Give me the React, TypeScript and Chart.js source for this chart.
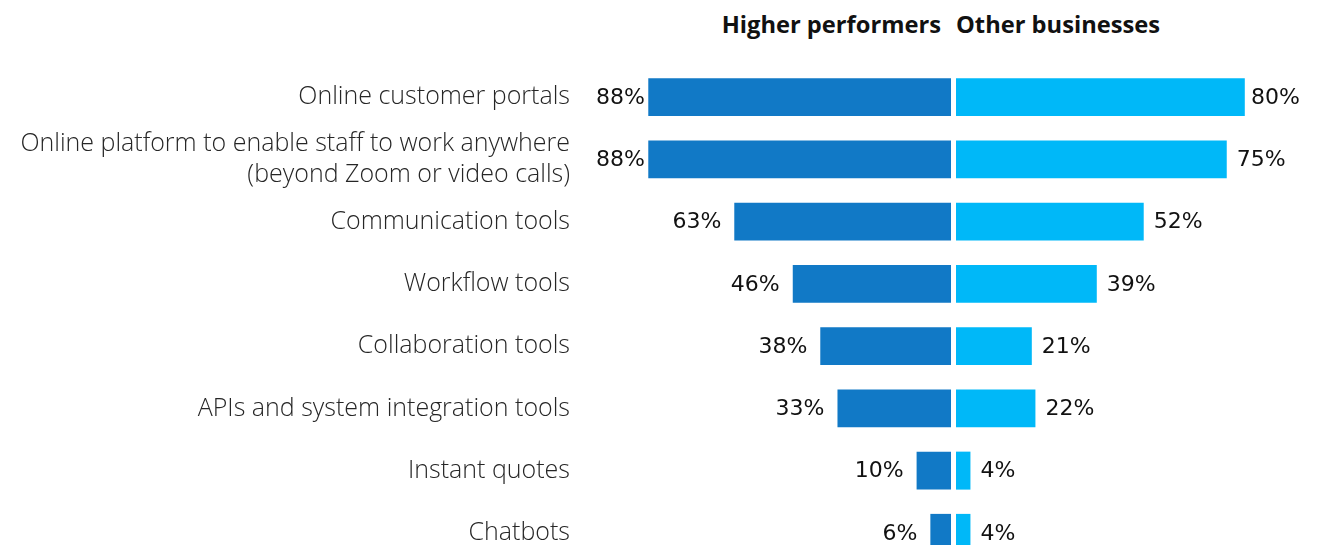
import React, { useEffect, useRef } from "react";
import { Chart, registerables } from "chart.js";

Chart.register(...registerables);

const categories: (string | string[])[] = [
  "Online customer portals",
  ["Online platform to enable staff to work anywhere", "(beyond Zoom or video calls)"],
  "Communication tools",
  "Workflow tools",
  "Collaboration tools",
  "APIs and system integration tools",
  "Instant quotes",
  "Chatbots",
];
const higherPerformers = [88, 88, 63, 46, 38, 33, 10, 6];
const otherBusinesses = [80, 75, 52, 39, 21, 22, 4, 4];
const seriesNames = ["Higher performers", "Other businesses"];

const DARK = "#1179c6";
const LIGHT = "#00b8f8";
const FONT = "'Open Sans', 'Noto Sans', sans-serif";
const VALUE_FONT = "'DejaVu Sans', sans-serif";
const CANVAS_H = 570;

const valueLabelPlugin = (side: "left" | "right") => ({
  id: "valueLabels_" + side,
  afterDatasetsDraw(chart: any) {
    const ctx = chart.ctx;
    const meta = chart.getDatasetMeta(0);
    const data = chart.data.datasets[0].data as number[];
    const area = chart.chartArea;
    ctx.save();
    ctx.font = `400 22px ${VALUE_FONT}`;
    ctx.fillStyle = "#111";
    ctx.textBaseline = "middle";
    meta.data.forEach((bar: any, i: number) => {
      const txt = data[i] + "%";
      const w = ctx.measureText(txt).width;
      if (side === "left") {
        ctx.textAlign = "right";
        const x = Math.max(bar.x - 13, area.left - 11 + w);
        ctx.fillText(txt, x, bar.y + 1);
      } else {
        ctx.textAlign = "left";
        const x = Math.min(bar.x + 10, area.right - 17 - w);
        ctx.fillText(txt, x, bar.y + 1);
      }
    });
    ctx.restore();
  },
});

export default function App() {
  const leftRef = useRef<HTMLCanvasElement>(null);
  const rightRef = useRef<HTMLCanvasElement>(null);

  useEffect(() => {
    const common = {
      indexAxis: "y" as const,
      responsive: false,
      maintainAspectRatio: false,
      animation: false as const,
      plugins: { legend: { display: false }, tooltip: { enabled: false } },
    };
    const left = new Chart(leftRef.current!, {
      type: "bar",
      data: {
        labels: categories,
        datasets: [
          {
            label: seriesNames[0],
            data: higherPerformers,
            backgroundColor: DARK,
            barPercentage: 0.61,
            categoryPercentage: 1,
          },
        ],
      },
      options: {
        ...common,
        layout: { padding: { top: 66, bottom: 6, left: 0, right: 0 } },
        scales: {
          x: { display: false, reverse: true, min: 0, max: 100 },
          y: {
            offset: true,
            grid: { display: false, drawTicks: false },
            border: { display: false },
            ticks: {
              autoSkip: false,
              padding: 37,
              color: "#262626",
              font: { family: FONT, size: 25, weight: 300 as any, lineHeight: 1.24 },
            },
            afterFit: (axis: any) => {
              axis.width = 607;
              axis.paddingTop = 0;
              axis.paddingBottom = 0;
            },
          },
        },
      },
      plugins: [valueLabelPlugin("left")],
    });
    const right = new Chart(rightRef.current!, {
      type: "bar",
      data: {
        labels: categories,
        datasets: [
          {
            label: seriesNames[1],
            data: otherBusinesses,
            backgroundColor: LIGHT,
            barPercentage: 0.61,
            categoryPercentage: 1,
          },
        ],
      },
      options: {
        ...common,
        layout: { padding: { top: 66, bottom: 6, left: 0, right: 0 } },
        scales: {
          x: { display: false, min: 0, max: 100 },
          y: { display: false, offset: true },
        },
      },
      plugins: [valueLabelPlugin("right")],
    });
    return () => {
      left.destroy();
      right.destroy();
    };
  }, []);

  const headStyle: React.CSSProperties = {
    position: "absolute",
    top: 8,
    fontFamily: FONT,
    fontWeight: 700,
    fontSize: 23.7,
    lineHeight: "32px",
    color: "#111",
    whiteSpace: "nowrap",
  };

  return (
    <div
      style={{
        position: "fixed",
        left: 0,
        top: 0,
        width: 1317,
        height: 545,
        overflow: "hidden",
        background: "#fff",
      }}
    >
      <div style={{ ...headStyle, right: 1317 - 941, textAlign: "right" }}>{seriesNames[0]}</div>
      <div style={{ ...headStyle, left: 956 }}>{seriesNames[1]}</div>
      <canvas
        ref={leftRef}
        width={951}
        height={CANVAS_H}
        style={{ position: "absolute", left: 0, top: 0, width: 951, height: CANVAS_H }}
      />
      <canvas
        ref={rightRef}
        width={361}
        height={CANVAS_H}
        style={{ position: "absolute", left: 956, top: 0, width: 361, height: CANVAS_H }}
      />
    </div>
  );
}
